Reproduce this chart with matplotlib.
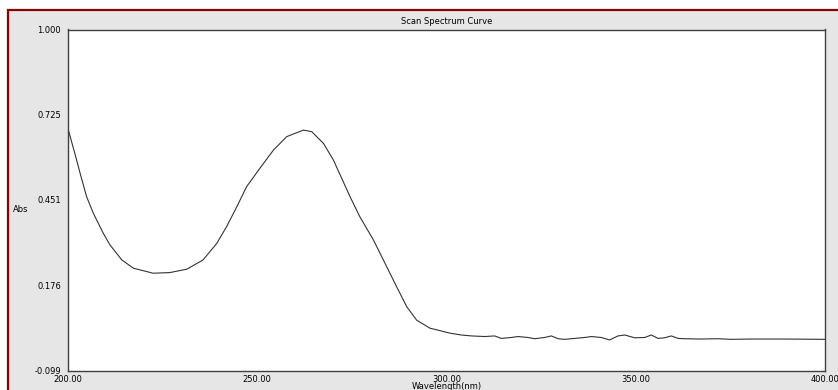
import matplotlib
matplotlib.use("Agg")
import matplotlib.pyplot as plt
from matplotlib.patches import Rectangle

# ==========================================
# DATOS LEIDOS DEL ESPECTRO (nm, Abs)
# ==========================================
wavelength = [
    200.1, 201.8, 203.2, 204.9, 206.7, 209.3, 211.1, 214.2, 217.3, 222.5,
    226.9, 231.4, 235.7, 239.3, 241.9, 244.6, 247.2, 250.7, 254.3, 257.8,
    262.2, 264.4, 267.5, 270.1, 274.5, 277.1, 280.7, 284.2, 286.8, 289.5,
    292.1, 295.6, 298.3, 300.9, 303.9, 306.6, 310.1,
    312.7, 314.5, 317.1, 318.9, 321.5, 323.3, 325.9, 327.7, 329.5, 331.2,
    333.9, 336.5, 338.3, 340.9, 343.1, 345.3, 347.1, 349.7, 352.4, 354.1,
    355.9, 357.6, 359.4, 361.2, 362.9, 367.3, 371.7, 375.3, 380.5, 389.3,
    399.9,
]
absorbance = [
    0.676, 0.601, 0.537, 0.462, 0.408, 0.344, 0.306, 0.258, 0.231, 0.215,
    0.217, 0.228, 0.258, 0.311, 0.365, 0.429, 0.494, 0.553, 0.612, 0.655,
    0.676, 0.671, 0.633, 0.580, 0.462, 0.397, 0.322, 0.236, 0.172, 0.107,
    0.064, 0.038, 0.030, 0.022, 0.016, 0.013, 0.011,
    0.013, 0.005, 0.008, 0.011, 0.008, 0.004, 0.008, 0.013, 0.004, 0.002,
    0.005, 0.008, 0.011, 0.008, 0.000, 0.013, 0.016, 0.007, 0.008, 0.016,
    0.005, 0.007, 0.013, 0.005, 0.004, 0.003, 0.004, 0.002, 0.003, 0.003,
    0.002,
]
y_ticks = [-0.099, 0.176, 0.451, 0.725, 1.000]
x_ticks = [200, 250, 300, 350, 400]

W, H = 838, 390
fig = plt.figure(figsize=(W / 100, H / 100), dpi=100)
fig.patch.set_facecolor("white")

# marco rojo con fondo gris (recortado a la derecha y abajo)
marco = Rectangle((7.5 / W, -0.2), 1.2, 1.2 - 9.5 / H, transform=fig.transFigure,
                  facecolor="#e6e6e6", edgecolor="#8b0000", linewidth=1.6, zorder=-5)
fig.patches.append(marco)

ax = fig.add_axes([68 / W, (H - 370.7) / H, (825 - 68) / W, (370.7 - 29.5) / H])
ax.set_facecolor("white")
ax.plot(wavelength, absorbance, color="#333333", linewidth=0.8)

ax.set_xlim(200, 400)
ax.set_ylim(-0.099, 1.000)
ax.set_xticks(x_ticks)
ax.set_xticklabels([f"{v:.2f}" for v in x_ticks])
ax.set_yticks(y_ticks)
ax.set_yticklabels([f"{v:.3f}" for v in y_ticks])
ax.tick_params(length=0, labelsize=6, colors="#000000", pad=5)
ax.tick_params(axis="x", pad=3)
for s in ax.spines.values():
    s.set_color("#404040")
    s.set_linewidth(1.0)

ax.set_title("Scan Spectrum Curve", fontsize=6, pad=4)
ax.set_xlabel("Wavelength(nm)", fontsize=6, labelpad=-1)
fig.text(13 / W, 1 - 209 / H, "Abs", fontsize=6, va="center", ha="left")

fig.savefig("out.png", dpi=100)
